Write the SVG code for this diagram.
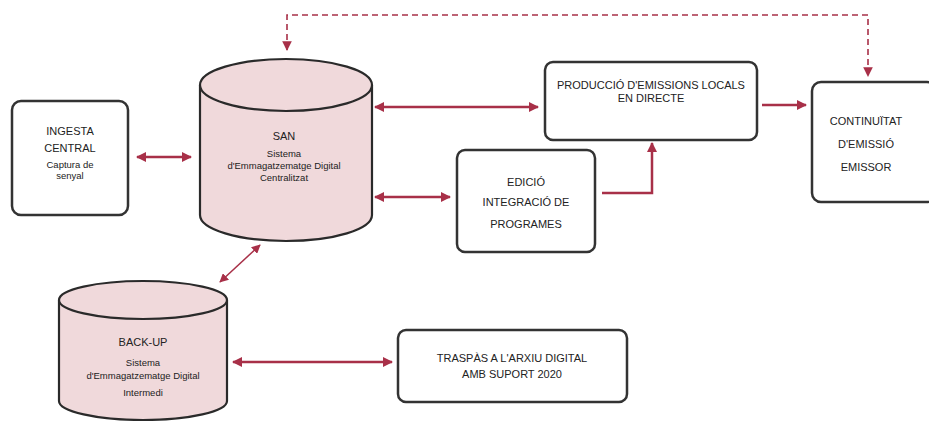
<svg xmlns="http://www.w3.org/2000/svg" width="929" height="421" viewBox="0 0 929 421">
<style>
.box{fill:#fff;stroke:#333;stroke-width:2.5}
.cyl{fill:#f0d9db;stroke:#2a2a2a;stroke-width:2.2}
.t{font-family:"Liberation Sans",Arial,sans-serif;font-size:11px;fill:#222;text-anchor:middle}
.s{font-family:"Liberation Sans",Arial,sans-serif;font-size:9.5px;fill:#222;text-anchor:middle}
.c{fill:none;stroke:#a83048;stroke-width:2.5}
.thin{fill:none;stroke:#a83048;stroke-width:1.5}
.dash{fill:none;stroke:#a83048;stroke-width:1.6;stroke-dasharray:6 4}
</style>
<defs>
<marker id="ah" viewBox="0 0 10 10" refX="9" refY="5" markerWidth="4" markerHeight="4" orient="auto-start-reverse" markerUnits="strokeWidth">
<path d="M0,0 L10,5 L0,10 z" fill="#a83048"/>
</marker>
<marker id="ahs" viewBox="0 0 10 10" refX="9" refY="5" markerWidth="6" markerHeight="6" orient="auto-start-reverse" markerUnits="strokeWidth">
<path d="M0,0 L10,5 L0,10 z" fill="#a83048"/>
</marker>
</defs>
<g id="connectors">
<path class="c" d="M137,157 L191,157" marker-start="url(#ah)" marker-end="url(#ah)"/>
<path class="c" d="M375,107 L538,107" marker-start="url(#ah)" marker-end="url(#ah)"/>
<path class="c" d="M375,197 L450,197" marker-start="url(#ah)" marker-end="url(#ah)"/>
<path class="c" d="M602,193 H652 V143" marker-end="url(#ah)"/>
<path class="c" d="M762,105 H806" marker-end="url(#ah)"/>
<path class="thin" d="M260,245 L220,282" marker-start="url(#ahs)" marker-end="url(#ahs)"/>
<path class="c" d="M233,362 H392" marker-start="url(#ah)" marker-end="url(#ah)"/>
<path class="dash" d="M287,50 V15 H868 V76" marker-start="url(#ahs)" marker-end="url(#ahs)"/>
</g>
<g id="ingesta">
<rect class="box" x="12" y="101" width="116" height="114" rx="9"/>
<text class="t" x="70" y="135">INGESTA</text>
<text class="t" x="70" y="152">CENTRAL</text>
<text class="s" x="70" y="168">Captura de</text>
<text class="s" x="70" y="179">senyal</text>
</g>
<g id="san">
<path class="cyl" d="M200,85 V215 A86,26 0 0 0 372,215 V85"/>
<ellipse class="cyl" cx="286" cy="85" rx="86" ry="26"/>
<text class="t" x="284" y="140">SAN</text>
<text class="s" x="284" y="157">Sistema</text>
<text class="s" x="284" y="169">d'Emmagatzematge Digital</text>
<text class="s" x="284" y="181">Centralitzat</text>
</g>
<g id="produccio">
<rect class="box" x="545" y="62" width="212" height="78" rx="8"/>
<text class="t" x="651" y="89">PRODUCCIÓ D'EMISSIONS LOCALS</text>
<text class="t" x="651" y="102">EN DIRECTE</text>
</g>
<g id="edicio">
<rect class="box" x="457" y="150" width="138" height="102" rx="8"/>
<text class="t" x="526" y="186">EDICIÓ</text>
<text class="t" x="526" y="206">INTEGRACIÓ DE</text>
<text class="t" x="526" y="228">PROGRAMES</text>
</g>
<g id="continuitat">
<rect class="box" x="812" y="82" width="124" height="120" rx="9"/>
<text class="t" x="866" y="125">CONTINUÏTAT</text>
<text class="t" x="866" y="148">D'EMISSIÓ</text>
<text class="t" x="866" y="171">EMISSOR</text>
</g>
<g id="backup">
<path class="cyl" d="M59,300 V401 A84,19 0 0 0 227,401 V300"/>
<ellipse class="cyl" cx="143" cy="300" rx="84" ry="19"/>
<text class="t" x="143" y="346">BACK-UP</text>
<text class="s" x="143" y="366">Sistema</text>
<text class="s" x="143" y="379">d'Emmagatzematge Digital</text>
<text class="s" x="143" y="396">Intermedi</text>
</g>
<g id="traspas">
<rect class="box" x="398" y="330" width="229" height="72" rx="8"/>
<text class="t" x="512" y="362">TRASPÀS A L'ARXIU DIGITAL</text>
<text class="t" x="512" y="378">AMB SUPORT 2020</text>
</g>
</svg>
